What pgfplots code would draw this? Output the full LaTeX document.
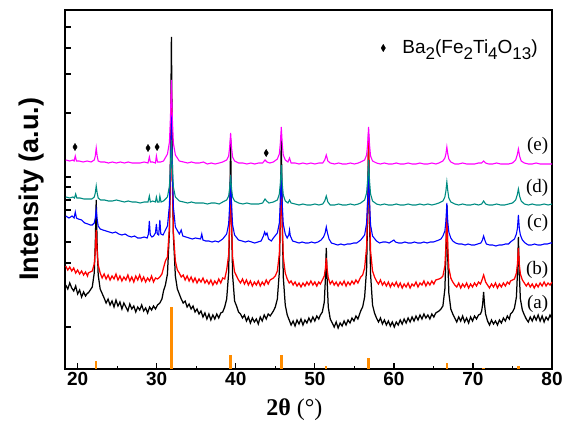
\documentclass[border=0pt]{standalone}
\usepackage{fontspec}
\setmainfont{Liberation Serif}
\setsansfont{Liberation Sans}
\usepackage{pgfplots}
\pgfplotsset{compat=1.18}
\definecolor{dteal}{RGB}{0,140,130}
\definecolor{dmag}{RGB}{255,0,255}
\definecolor{dorange}{RGB}{255,140,0}
\begin{document}
\begin{tikzpicture}
\begin{axis}[
  at={(0pt,0pt)}, anchor=south west,
  scale only axis, width=487pt, height=359pt,
  xmin=18.4, xmax=80, ymin=0, ymax=359,
  xtick={20,30,...,80}, minor xtick={25,35,...,75},
  ytick={42,106,127,159,169,182,192,256,295,321,342}, yticklabels={},
  xtick pos=bottom, ytick pos=left,
  tick align=inside, major tick length=6pt, minor tick length=3.5pt,
  axis line style={line width=1.6pt},
  every tick/.style={black, line width=1.3pt},
  /pgf/number format/assume math mode=true,
  tick label style={font=\fontsize{19}{19}\selectfont\sffamily\bfseries},
  xlabel={\textbf{2θ} (°)},
  xlabel style={font=\fontsize{24}{24}\selectfont, at={(axis description cs:0.471,0)}, anchor=center, yshift=-41pt},
  ylabel={Intensity (a.u.)},
  ylabel style={font=\fontsize{27}{27}\selectfont\sffamily\bfseries, at={(axis description cs:-0.0678,0.501)}, anchor=center},
  clip=true,
]
% reference pattern
\addplot[ycomb, dorange, line width=2.4pt, no markers] coordinates {
(22.35,8)(31.86,62)(39.35,14)(45.76,14)(51.45,3)(56.8,11)(66.7,6)(71.35,1.5)(75.75,3)};
% (a) black
\addplot[black, line width=1.25pt, no markers] coordinates {
(18.5,84)(18.75,80)(19.0,86)(19.25,81)(19.5,78)(19.75,83)(20.0,75)(20.25,79)(20.5,72)(20.75,77)(21.0,73)(21.25,76)
(21.35,76)(21.85,82)(22.1,96)(22.23,125)(22.35,169)(22.47,123)(22.6,94)(22.85,80)(23.35,71)
(23.6,66)(23.85,70)(24.1,64)(24.35,68)(24.6,62)(24.85,69)(25.1,63)(25.35,67)(25.6,60)(25.85,66)(26.1,62)(26.35,58)(26.6,65)(26.85,60)(27.1,63)(27.35,57)(27.6,62)(27.85,59)(28.1,64)(28.35,58)(28.6,61)(28.85,56)(29.1,62)(29.35,59)(29.6,63)(29.85,60)
(30.1,64)(30.4,66)(30.66,70)(30.86,78)(31.1,84)(31.36,95)(31.61,138)(31.74,211)(31.86,332)(31.98,205)(32.11,134)(32.36,93)(32.61,80)(32.86,75)
(33.1,70)(33.35,66)(33.6,68)(33.85,62)(34.1,65)(34.35,60)(34.6,63)(34.85,57)(35.1,60)(35.35,55)(35.6,58)(35.85,52)(36.1,56)(36.35,50)(36.6,55)(36.85,49)(37.1,54)(37.35,50)(37.6,55)(37.85,51)(38.1,56)
(38.35,57)(38.6,62)(38.85,70)(39.1,96)(39.23,150)(39.35,229)(39.47,148)(39.6,94)(39.85,68)(40.1,63)
(40.35,57)(40.6,55)(40.85,51)(41.1,54)(41.35,48)(41.6,52)(41.85,46)(42.1,51)(42.35,47)(42.6,50)(42.85,45)(43.1,52)(43.35,48)(43.6,54)(43.85,50)(44.1,55)(44.35,53)
(44.76,58)(45.0,62)(45.26,70)(45.51,97)(45.64,152)(45.76,234)(45.88,148)(46.01,92)(46.26,64)(46.51,54)
(46.76,49)(47.0,44)(47.25,48)(47.5,43)(47.75,49)(48.0,45)(48.25,50)(48.5,44)(48.75,49)(49.0,46)(49.25,51)(49.5,47)(49.75,52)(50.0,48)(50.25,53)(50.5,50)
(50.7,54)(50.95,57)(51.2,67)(51.33,89)(51.45,121)(51.57,86)(51.7,62)(51.95,50)
(52.2,46)(52.45,42)(52.7,47)(52.95,41)(53.2,46)(53.45,43)(53.7,48)(53.95,44)(54.2,49)(54.45,46)(54.7,51)(54.95,48)(55.2,53)(55.45,50)
(55.8,58)(56.05,62)(56.3,72)(56.55,100)(56.68,156)(56.8,235)(56.92,150)(57.05,95)(57.3,64)(57.55,56)
(57.8,51)(58.05,47)(58.3,51)(58.55,45)(58.8,49)(59.05,44)(59.3,48)(59.55,43)(59.8,47)(60.05,42)(60.3,47)(60.55,44)(60.8,49)(61.05,45)(61.3,50)(61.55,46)(61.8,51)(62.05,47)(62.3,52)(62.55,48)(62.8,53)(63.05,49)(63.3,54)(63.55,50)(63.8,55)(64.05,51)(64.3,54)(64.55,50)(64.8,55)(65.05,52)(65.3,56)
(65.7,58)(65.95,60)(66.2,63)(66.45,80)(66.58,113)(66.7,164)(66.82,110)(66.95,76)(67.2,60)(67.45,55)
(67.7,51)(67.95,47)(68.2,52)(68.45,48)(68.7,53)(68.95,47)(69.2,51)(69.45,46)(69.7,52)(69.95,48)(70.2,53)(70.45,50)(70.7,54)
(70.95,55)(71.1,58)(71.23,65)(71.35,77)(71.47,64)(71.6,55)(71.85,48)
(72.1,44)(72.35,49)(72.6,45)(72.85,48)(73.1,44)(73.35,49)(73.6,46)(73.85,51)(74.1,48)(74.35,53)(74.6,50)
(74.75,55)(75.0,57)(75.25,61)(75.5,72)(75.63,96)(75.75,132)(75.87,94)(76.0,70)(76.25,59)(76.5,54)
(76.75,50)(77.0,47)(77.25,52)(77.5,48)(77.75,53)(78.0,49)(78.25,54)(78.5,48)(78.75,53)(79.0,47)(79.25,52)(79.5,49)(79.75,54)(80.0,50)};
% (b) red
\addplot[red, line width=1.25pt, no markers] coordinates {
(18.5,103)(18.75,99)(19.0,102)(19.25,98)(19.5,101)(19.75,96)(20.0,99)(20.25,95)(20.5,98)(20.75,94)(21.0,97)(21.25,93)
(21.35,96)(21.85,98)(22.1,105)(22.23,118)(22.35,139)(22.47,117)(22.6,104)(22.85,96)
(23.1,91)(23.35,95)(23.6,90)(23.85,94)(24.1,89)(24.35,93)(24.6,90)(24.85,95)(25.1,89)(25.35,93)(25.6,88)(25.85,92)(26.1,89)(26.35,94)(26.6,88)(26.85,92)(27.1,87)(27.35,93)(27.6,89)(27.85,94)(28.1,88)(28.35,92)(28.6,87)(28.85,91)(29.1,88)(29.35,93)(29.6,87)(29.85,91)
(30.1,90)(30.4,92)(30.66,95)(30.86,101)(31.1,108)(31.36,112)(31.61,142)(31.74,193)(31.86,279)(31.98,188)(32.11,136)(32.36,108)(32.61,99)(32.86,96)
(33.1,92)(33.35,94)(33.6,89)(33.85,93)(34.1,88)(34.35,92)(34.6,87)(34.85,91)(35.1,86)(35.35,90)(35.6,87)(35.85,91)(36.1,86)(36.35,89)(36.6,85)(36.85,89)(37.1,84)(37.35,88)(37.6,85)(37.85,90)(38.1,86)
(38.35,91)(38.6,90)(38.85,99)(39.1,114)(39.23,146)(39.35,194)(39.47,144)(39.6,112)(39.85,97)(40.1,93)
(40.35,89)(40.6,86)(40.85,90)(41.1,85)(41.35,89)(41.6,84)(41.85,88)(42.1,83)(42.35,87)(42.6,84)(42.85,88)(43.1,83)(43.35,87)(43.6,84)(43.85,89)(44.1,85)(44.35,89)
(44.76,91)(45.0,93)(45.26,98)(45.51,115)(45.64,149)(45.76,199)(45.88,146)(46.01,112)(46.26,96)(46.51,90)
(46.76,86)(47.0,88)(47.25,84)(47.5,87)(47.75,83)(48.0,86)(48.25,82)(48.5,86)(48.75,83)(49.0,87)(49.25,84)(49.5,88)(49.75,84)(50.0,87)(50.25,83)(50.5,87)
(50.7,85)(50.95,89)(51.2,93)(51.33,100)(51.45,111)(51.57,99)(51.7,91)(51.95,85)
(52.2,88)(52.45,84)(52.7,87)(52.95,83)(53.2,87)(53.45,84)(53.7,88)(53.95,83)(54.2,87)(54.45,84)(54.7,88)(54.95,85)(55.2,89)(55.45,86)
(55.8,92)(56.05,94)(56.3,101)(56.55,122)(56.68,165)(56.8,229)(56.92,162)(57.05,118)(57.3,98)(57.55,92)
(57.8,88)(58.05,85)(58.3,89)(58.55,84)(58.8,87)(59.05,83)(59.3,87)(59.55,82)(59.8,86)(60.05,83)(60.3,87)(60.55,82)(60.8,86)(61.05,81)(61.3,85)(61.55,82)(61.8,86)(62.05,81)(62.3,85)(62.55,83)(62.8,87)(63.05,82)(63.3,86)(63.55,84)(63.8,88)(64.05,83)(64.3,87)(64.55,84)(64.8,88)(65.05,85)(65.3,89)
(65.7,90)(65.95,91)(66.2,93)(66.45,103)(66.58,123)(66.7,154)(66.82,121)(66.95,101)(67.2,91)(67.45,87)
(67.7,84)(67.95,82)(68.2,86)(68.45,81)(68.7,85)(68.95,82)(69.2,86)(69.45,81)(69.7,85)(69.95,82)(70.2,86)(70.45,83)(70.7,87)
(70.95,85)(71.1,88)(71.23,91)(71.35,94)(71.47,91)(71.6,87)(71.85,84)
(72.1,81)(72.35,85)(72.6,82)(72.85,86)(73.1,81)(73.35,85)(73.6,82)(73.85,86)(74.1,83)(74.35,87)(74.6,85)
(74.75,88)(75.0,89)(75.25,90)(75.5,96)(75.63,105)(75.75,121)(75.87,104)(76.0,95)(76.25,89)(76.5,86)
(76.75,83)(77.0,86)(77.25,82)(77.5,85)(77.75,81)(78.0,85)(78.25,82)(78.5,86)(78.75,83)(79.0,87)(79.25,83)(79.5,86)(79.75,84)(80.0,87)};
% (c) blue
\addplot[blue, line width=1.1pt, no markers] coordinates {
(18.5,153)(18.9,151)(19.3,153)(19.55,151)(19.7,157)(19.85,151)(20.1,150)(20.5,149)(20.9,146)(21.3,145)(21.6,144)
(21.85,144)(22.1,146)(22.23,151)(22.35,159)(22.47,150)(22.6,143)(22.85,140)
(23.2,139)(23.6,138)(24.0,137)(24.4,136)(24.8,137)(25.2,135)(25.6,134)(26.0,135)(26.4,133)(26.8,132)(27.2,133)(27.6,131)(28.0,131)(28.4,132)(28.8,131)
(28.95,135)(29.07,148)(29.19,134)(29.4,132)(29.6,133)(29.84,136)(29.96,145)(30.08,135)(30.25,134)(30.4,149)(30.52,135)(30.8,134)
(30.86,135)(31.36,143)(31.61,164)(31.74,200)(31.86,254)(31.98,198)(32.11,162)(32.36,142)(32.86,135)
(33.1,139)(33.3,133)(33.7,132)(34.1,131)(34.5,130)(34.9,131)(35.55,130)(35.7,135)(35.85,129)(36.2,128)(36.6,128)(37.0,127)(37.4,128)(37.8,127)
(38.35,130)(38.85,135)(39.1,145)(39.23,164)(39.35,194)(39.47,163)(39.6,144)(39.85,134)
(40.35,129)(40.8,128)(41.2,127)(41.6,128)(42.0,127)(42.4,126)(42.8,127)(43.2,128)(43.5,133)(43.65,137)(43.8,134)(43.95,136)(44.15,130)(44.5,128)
(44.76,131)(45.26,136)(45.51,146)(45.64,167)(45.76,199)(45.88,165)(46.01,145)(46.26,135)
(46.5,131)(46.7,134)(46.8,139)(46.9,133)(47.2,128)(47.6,127)(48.0,126)(48.4,127)(48.8,126)(49.2,126)(49.6,127)(50.0,126)(50.4,127)(50.8,129)
(51.1,132)(51.3,136)(51.45,142)(51.6,136)(51.8,130)
(52.1,126)(52.5,125)(52.9,124)(53.3,125)(53.7,124)(54.1,125)(54.5,125)(54.9,126)(55.3,126)
(55.8,129)(56.3,134)(56.55,146)(56.68,169)(56.8,204)(56.92,167)(57.05,144)(57.3,133)
(57.8,128)(58.2,126)(58.6,127)(59.0,127)(59.4,126)(59.8,128)(60.0,129)(60.2,127)(60.6,126)(61.0,126)(61.4,127)(61.8,126)(62.2,126)(62.6,127)(63.0,126)(63.4,126)(63.8,127)(64.2,126)(64.6,127)(65.0,127)
(65.7,129)(65.95,130)(66.2,133)(66.45,138)(66.58,148)(66.7,166)(66.82,147)(66.95,137)(67.2,131)(67.45,128)
(67.8,126)(68.2,125)(68.6,125)(69.0,124)(69.4,125)(69.8,124)(70.2,124)(70.6,125)
(71.0,126)(71.2,129)(71.35,133)(71.5,129)(71.7,125)
(72.1,124)(72.5,124)(72.9,123)(73.3,124)(73.7,124)(74.1,125)(74.5,125)
(74.75,127)(75.25,130)(75.5,135)(75.63,141)(75.75,154)(75.87,140)(76.0,134)(76.25,129)
(76.6,126)(77.0,124)(77.4,124)(77.8,125)(78.2,124)(78.6,124)(79.0,125)(79.4,125)(79.8,126)(80.0,126)};
% (d) teal
\addplot[dteal, line width=1.1pt, no markers] coordinates {
(18.5,172)(19.0,171)(19.4,172)(19.6,171)(19.75,175)(19.9,171)(20.3,171)(20.8,170)(21.3,170)(21.8,170)
(22.1,172)(22.23,176)(22.35,183)(22.47,176)(22.6,171)
(22.9,169)(23.4,169)(23.9,168)(24.4,168)(24.9,169)(25.4,168)(25.9,167)(26.4,168)(26.9,167)(27.4,167)(27.9,166)(28.4,167)(28.9,167)
(29.07,173)(29.2,167)(29.5,168)(29.84,167)(29.96,172)(30.1,167)(30.3,167)(30.4,173)(30.55,167)
(30.86,168)(31.36,172)(31.61,183)(31.74,201)(31.86,229)(31.98,200)(32.11,182)(32.36,172)(32.86,168)
(33.4,167)(33.9,166)(34.4,167)(34.9,166)(35.4,166)(35.9,166)(36.4,165)(36.9,166)(37.4,166)(37.9,165)
(38.35,167)(38.85,169)(39.1,173)(39.23,181)(39.35,194)(39.47,180)(39.6,172)(39.85,168)
(40.35,166)(40.9,165)(41.4,166)(41.9,165)(42.4,165)(42.9,165)(43.4,166)(43.7,170)(43.9,168)(44.2,166)
(44.76,167)(45.26,169)(45.51,175)(45.64,186)(45.76,204)(45.88,185)(46.01,174)(46.26,168)
(46.6,166)(46.8,169)(47.0,166)(47.5,165)(48.0,164)(48.5,165)(49.0,164)(49.5,164)(50.0,165)(50.5,164)
(51.0,165)(51.25,168)(51.45,173)(51.65,167)(51.95,164)
(52.5,164)(53.0,165)(53.5,164)(54.0,164)(54.5,165)(55.0,164)(55.5,165)
(55.8,166)(56.3,169)(56.55,176)(56.68,189)(56.8,209)(56.92,188)(57.05,175)(57.3,168)
(57.8,165)(58.3,164)(58.8,165)(59.3,164)(59.8,164)(60.3,165)(60.8,164)(61.3,164)(61.8,165)(62.3,164)(62.8,164)(63.3,165)(63.8,164)(64.3,165)(64.8,164)(65.3,165)
(65.7,166)(66.2,168)(66.45,172)(66.58,178)(66.7,187)(66.82,178)(66.95,171)(67.2,167)
(67.7,165)(68.2,164)(68.7,165)(69.2,164)(69.7,164)(70.2,165)(70.7,164)
(71.1,165)(71.35,168)(71.6,165)
(72.0,164)(72.5,164)(73.0,165)(73.5,164)(74.0,164)(74.5,165)
(75.0,166)(75.4,169)(75.6,174)(75.75,180)(75.9,173)(76.1,168)
(76.5,165)(77.0,164)(77.5,165)(78.0,164)(78.5,164)(79.0,165)(79.5,164)(80.0,165)};
% (e) magenta
\addplot[dmag, line width=1.1pt, no markers] coordinates {
(18.5,209)(19.0,208)(19.4,209)(19.55,208)(19.7,213)(19.85,208)(20.2,208)(20.7,207)(21.2,208)(21.7,207)
(22.1,209)(22.23,213)(22.35,221)(22.47,213)(22.6,208)
(22.9,207)(23.4,207)(23.9,206)(24.4,207)(24.9,206)(25.4,207)(25.9,206)(26.4,207)(26.9,206)(27.4,206)(27.9,206)(28.4,207)(28.9,206)
(29.07,212)(29.2,207)(29.5,207)(29.84,206)(29.96,213)(30.1,207)(30.5,207)
(30.86,208)(31.36,215)(31.61,227)(31.74,252)(31.86,289)(31.98,250)(32.11,226)(32.36,214)(32.86,208)
(33.4,207)(33.9,206)(34.4,207)(34.9,206)(35.4,206)(35.9,207)(36.4,205)(36.9,206)(37.4,205)(37.9,206)
(38.35,207)(38.85,209)(39.1,213)(39.23,222)(39.35,236)(39.47,221)(39.6,212)(39.85,208)
(40.35,206)(40.9,206)(41.4,205)(41.9,206)(42.4,205)(42.9,206)(43.4,206)(43.7,209)(43.95,207)(44.3,206)
(44.76,207)(45.26,210)(45.51,215)(45.64,226)(45.76,242)(45.88,225)(46.01,214)(46.26,209)
(46.6,207)(46.8,211)(47.0,206)(47.5,206)(48.0,205)(48.5,206)(49.0,205)(49.5,206)(50.0,205)(50.5,206)
(51.0,206)(51.25,209)(51.45,214)(51.65,208)(51.95,206)
(52.5,205)(53.0,206)(53.5,205)(54.0,205)(54.5,206)(55.0,205)(55.5,206)
(55.8,207)(56.3,209)(56.55,214)(56.68,225)(56.8,242)(56.92,224)(57.05,213)(57.3,208)
(57.8,206)(58.3,205)(58.8,206)(59.3,205)(59.8,205)(60.3,206)(60.8,205)(61.3,205)(61.8,206)(62.3,205)(62.8,205)(63.3,206)(63.8,205)(64.3,205)(64.8,206)(65.3,205)
(65.7,206)(66.2,208)(66.45,211)(66.58,215)(66.7,222)(66.82,215)(66.95,210)(67.2,207)
(67.7,205)(68.2,205)(68.7,206)(69.2,205)(69.7,205)(70.2,205)(70.7,206)
(71.1,206)(71.35,208)(71.6,206)
(72.0,205)(72.5,205)(73.0,206)(73.5,205)(74.0,205)(74.5,205)
(75.0,206)(75.4,209)(75.6,214)(75.75,220)(75.9,213)(76.1,208)
(76.5,206)(77.0,205)(77.5,205)(78.0,206)(78.5,205)(79.0,205)(79.5,205)(80.0,205)};
% impurity markers
\addplot[only marks, mark=diamond*, mark size=3.6pt, black, mark options={xscale=0.8}] coordinates {
(19.67,222)(28.9,221)(30.05,222)(43.85,216)(58.66,321)};
% labels
\node[anchor=base east, inner sep=0pt, font=\fontsize{19}{19}\selectfont] at (axis cs:79.55,219) {(e)};
\node[anchor=base east, inner sep=0pt, font=\fontsize{19}{19}\selectfont] at (axis cs:79.55,177) {(d)};
\node[anchor=base east, inner sep=0pt, font=\fontsize{19}{19}\selectfont] at (axis cs:79.55,142) {(c)};
\node[anchor=base east, inner sep=0pt, font=\fontsize{19}{19}\selectfont] at (axis cs:79.55,95) {(b)};
\node[anchor=base east, inner sep=0pt, font=\fontsize{19}{19}\selectfont] at (axis cs:79.55,61) {(a)};
\node[anchor=base west, inner sep=0pt, font=\fontsize{19}{19}\selectfont\sffamily] at (axis cs:61.06,316)
  {Ba\raisebox{-6pt}{\fontsize{17}{17}\selectfont 2}(Fe\raisebox{-6pt}{\fontsize{17}{17}\selectfont 2}Ti\raisebox{-6pt}{\fontsize{17}{17}\selectfont 4}O\raisebox{-6pt}{\fontsize{17}{17}\selectfont 13})};
\end{axis}
\pgfresetboundingbox
\path[use as bounding box] (-65pt,-63pt) rectangle (498pt,369pt);
\end{tikzpicture}
\end{document}
